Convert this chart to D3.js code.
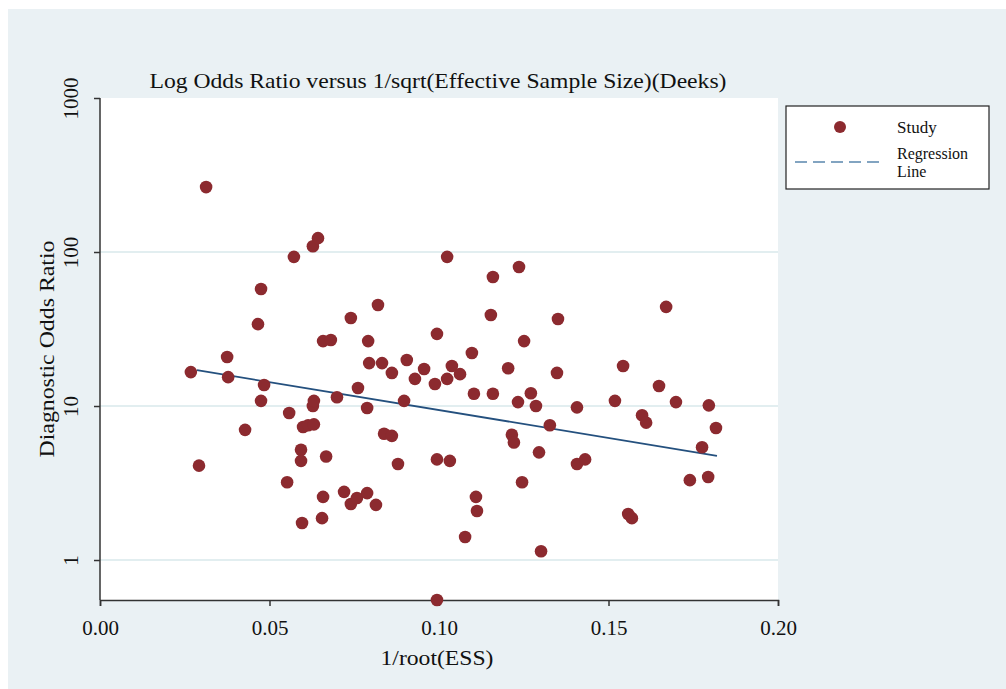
<!DOCTYPE html>
<meta charset="UTF-8">
<style>
body { margin: 0; background: #fff; }
svg text { font-family: "Liberation Serif", "Times New Roman", serif; fill: #111; }
.axis path, .axis line { stroke: #333; stroke-width: 1.5px; }
.grid line { stroke: #e2eef0; stroke-width: 2px; }
</style>
<body>
<script src="https://d3js.org/d3.v7.min.js"></script>
<script>

// study values: 1/root(ESS) and diagnostic odds ratio
var essInv = [0.0268, 0.0292, 0.0313, 0.0375, 0.0378, 0.0428, 0.0466, 0.0475, 0.0475, 0.0484,
  0.0552, 0.0558, 0.0572, 0.0593, 0.0593, 0.0596, 0.0599, 0.0614, 0.0628, 0.0628,
  0.0631, 0.0631, 0.0643, 0.0655, 0.0658, 0.0658, 0.0667, 0.0681, 0.0699, 0.0720,
  0.0740, 0.0740, 0.0758, 0.0761, 0.0788, 0.0788, 0.0791, 0.0794, 0.0814, 0.0820,
  0.0832, 0.0838, 0.0861, 0.0861, 0.0879, 0.0897, 0.0905, 0.0929, 0.0956, 0.0988,
  0.0994, 0.0994, 0.0994, 0.1024, 0.1024, 0.1032, 0.1038, 0.1062, 0.1077, 0.1097,
  0.1103, 0.1109, 0.1112, 0.1153, 0.1159, 0.1159, 0.1204, 0.1215, 0.1221, 0.1233,
  0.1236, 0.1245, 0.1251, 0.1271, 0.1286, 0.1295, 0.1301, 0.1327, 0.1348, 0.1351,
  0.1407, 0.1407, 0.1431, 0.1519, 0.1543, 0.1558, 0.1569, 0.1599, 0.1611, 0.1649,
  0.1670, 0.1699, 0.1740, 0.1776, 0.1794, 0.1796, 0.1817];
var dor = [16.6, 4.1, 264, 20.8, 15.4, 7.0, 34, 57.5, 10.8, 13.7,
  3.2, 9.0, 93, 5.2, 4.4, 1.74, 7.3, 7.5, 109, 10.0,
  10.8, 7.6, 123, 1.87, 26.4, 2.57, 4.7, 26.8, 11.4, 2.77,
  37.3, 2.31, 2.53, 13.1, 9.7, 2.72, 26.4, 19.0, 2.28, 45.3,
  19.0, 6.6, 16.4, 6.4, 4.2, 10.8, 19.9, 15.0, 17.4, 13.9,
  29.4, 4.5, 0.55, 93, 15.0, 4.4, 18.2, 16.1, 1.41, 22.1,
  12.0, 2.57, 2.08, 39, 68.8, 12.0, 17.6, 6.5, 5.8, 10.6,
  80, 3.2, 26.4, 12.1, 10.0, 5.0, 1.14, 7.5, 16.4, 36.7,
  9.8, 4.2, 4.5, 10.8, 18.2, 1.99, 1.87, 8.7, 7.8, 13.5,
  44, 10.6, 3.3, 5.4, 3.46, 10.1, 7.2];

// regression line end points
var regX = [0.0286, 0.182];
var regY = [17.1, 4.74];

var xTicks = [0, 0.05, 0.10, 0.15, 0.20];
var yTicks = [1, 10, 100, 1000];
var legendLabels = ["Study", "Regression", "Line"];

var width = 1006, height = 689;
var plot = {left: 100, right: 778, top: 98, bottom: 600};

var svg = d3.select("body").append("svg")
    .attr("width", width)
    .attr("height", height);

// outer panel
svg.append("rect")
    .attr("x", 8).attr("y", 9)
    .attr("width", width - 8).attr("height", height - 9)
    .attr("fill", "#eaf1f4");

// plot area
svg.append("rect")
    .attr("x", plot.left).attr("y", plot.top)
    .attr("width", plot.right - plot.left).attr("height", plot.bottom - plot.top)
    .attr("fill", "#fff");

var x = d3.scaleLinear().domain([0, 0.2]).range([plot.left, plot.right]);
var y = d3.scaleLog().domain([0.55, 1000]).range([plot.bottom, plot.top]);

// horizontal grid
svg.append("g").attr("class", "grid")
  .selectAll("line")
  .data(yTicks.slice(0, 3))
  .enter().append("line")
    .attr("x1", plot.left).attr("x2", plot.right)
    .attr("y1", function(d) { return y(d); })
    .attr("y2", function(d) { return y(d); });

// x axis
var xAxis = svg.append("g").attr("class", "axis")
    .attr("transform", "translate(0," + plot.bottom + ")")
    .call(d3.axisBottom(x).tickValues(xTicks).tickFormat(d3.format(".2f")).tickSizeOuter(0).tickSize(6));
xAxis.selectAll("text")
    .attr("dy", null).attr("y", 35)
    .style("font-size", "21px");

// y axis
var yAxis = svg.append("g").attr("class", "axis")
    .attr("transform", "translate(" + plot.left + ",0)")
    .call(d3.axisLeft(y).tickValues(yTicks).tickFormat(d3.format("d")).tickSizeOuter(0).tickSize(6));
yAxis.selectAll(".tick text")
    .attr("x", null).attr("dy", null)
    .attr("text-anchor", "middle")
    .attr("transform", "translate(-22,0) rotate(-90)")
    .style("font-size", "21px");
yAxis.select(".domain").attr("d", "M0," + plot.top + "V" + plot.bottom);

// regression line
svg.append("path")
    .datum(d3.zip(regX, regY))
    .attr("fill", "none")
    .attr("stroke", "#24507e")
    .attr("stroke-width", 1.8)
    .attr("d", d3.line().x(function(d) { return x(d[0]); }).y(function(d) { return y(d[1]); }));

// study points
svg.append("g")
  .selectAll("circle")
  .data(d3.zip(essInv, dor))
  .enter().append("circle")
    .attr("cx", function(d) { return x(d[0]); })
    .attr("cy", function(d) { return y(d[1]); })
    .attr("r", 6.3)
    .attr("fill", "#8c2a2f");

// titles
svg.append("text")
    .attr("x", 438).attr("y", 88)
    .attr("text-anchor", "middle")
    .attr("textLength", 577).attr("lengthAdjust", "spacingAndGlyphs")
    .style("font-size", "22px")
    .text("Log Odds Ratio versus 1/sqrt(Effective Sample Size)(Deeks)");

svg.append("text")
    .attr("x", 437).attr("y", 665)
    .attr("text-anchor", "middle")
    .attr("textLength", 113).attr("lengthAdjust", "spacingAndGlyphs")
    .style("font-size", "22px")
    .text("1/root(ESS)");

svg.append("text")
    .attr("transform", "translate(54,349) rotate(-90)")
    .attr("text-anchor", "middle")
    .attr("textLength", 217).attr("lengthAdjust", "spacingAndGlyphs")
    .style("font-size", "21px")
    .text("Diagnostic Odds Ratio");

// legend
var lg = svg.append("g").attr("transform", "translate(786,106)");
lg.append("rect")
    .attr("width", 203).attr("height", 83)
    .attr("fill", "#fff").attr("stroke", "#222").attr("stroke-width", 1.2);
lg.append("circle").attr("cx", 54).attr("cy", 21).attr("r", 6).attr("fill", "#8c2a2f");
lg.append("line")
    .attr("x1", 9).attr("x2", 97).attr("y1", 56).attr("y2", 56)
    .attr("stroke", "#5a86ad").attr("stroke-width", 1.5)
    .attr("stroke-dasharray", "12,6");
lg.selectAll("text.lbl")
  .data(legendLabels)
  .enter().append("text")
    .attr("class", "lbl")
    .attr("x", 111)
    .attr("y", function(d, i) { return [27, 53, 71][i]; })
    .style("font-size", function(d, i) { return i ? "16px" : "17px"; })
    .text(function(d) { return d; });

</script>
</body>
